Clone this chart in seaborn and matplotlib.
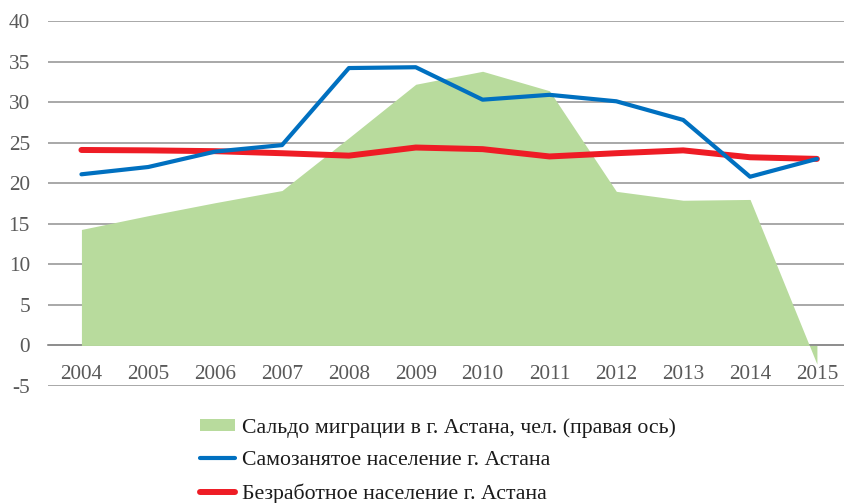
import matplotlib
matplotlib.use("Agg")
import matplotlib.pyplot as plt
import seaborn as sns
import pandas as pd

years = [2004, 2005, 2006, 2007, 2008, 2009, 2010, 2011, 2012, 2013, 2014, 2015]
migration = [14.3, 16.0, 17.6, 19.1, 25.6, 32.2, 33.8, 31.4, 19.0, 17.9, 18.0, -2.3]
self_employed = [21.1, 22.0, 23.9, 24.7, 34.2, 34.3, 30.3, 30.9, 30.1, 27.8, 20.8, 23.0]
unemployed = [24.1, 24.05, 23.95, 23.7, 23.4, 24.4, 24.2, 23.3, 23.7, 24.05, 23.2, 23.0]

lab_mig = "Сальдо миграции в г. Астана, чел. (правая ось)"
lab_self = "Самозанятое население г. Астана"
lab_unemp = "Безработное население г. Астана"

sns.set_style("white")
plt.rcParams["font.family"] = ["Liberation Serif", "DejaVu Serif"]
plt.rcParams["axes.unicode_minus"] = False

df = pd.DataFrame({"year": years, "self": self_employed, "unemp": unemployed})

fig = plt.figure(figsize=(8.45, 5.03), dpi=100)
ax = fig.add_axes([48 / 845, 1 - 386 / 503, 1 - 48 / 845, (386 - 21) / 503])

area = ax.fill_between(years, 0, migration, color="#B8DB9D", linewidth=0, label=lab_mig, zorder=2)
sns.lineplot(data=df, x="year", y="self", ax=ax, color="#0070C0", linewidth=3.0,
             label=lab_self, zorder=4)
sns.lineplot(data=df, x="year", y="unemp", ax=ax, color="#EE1C25", linewidth=4.3,
             label=lab_unemp, zorder=3, solid_capstyle="round")

ax.set_xlim(2003.5, 2015.42)
ax.set_ylim(-5, 40)
ax.set_yticks(range(-5, 41, 5))
ax.set_xticks(years)
ax.set_xticklabels([str(y) for y in years])
ax.set_xlabel("")
ax.set_ylabel("")

ax.yaxis.grid(True, color="#9A9A9A", linewidth=1.2, zorder=1)
ax.xaxis.grid(False)
ax.set_axisbelow(True)
for s in ["top", "right", "left"]:
    ax.spines[s].set_visible(False)
ax.spines["bottom"].set_position(("data", 0))
ax.spines["bottom"].set_color("#8A8A8A")
ax.spines["bottom"].set_linewidth(1.2)
ax.spines["bottom"].set_zorder(1.5)

ax.tick_params(axis="both", length=0, labelsize=15.3, labelcolor="#595959")
ax.tick_params(axis="x", pad=14)
ax.tick_params(axis="y", pad=13)

if ax.get_legend():
    ax.get_legend().remove()
handles, labels = ax.get_legend_handles_labels()
order = [labels.index(lab_mig), labels.index(lab_self), labels.index(lab_unemp)]
leg = fig.legend([handles[i] for i in order], [labels[i] for i in order],
                 loc="center left", bbox_to_anchor=(200 / 845, 1 - 461 / 503),
                 bbox_transform=fig.transFigure, frameon=False, fontsize=15.7,
                 handlelength=1.62, handleheight=0.45, handletextpad=0.32,
                 labelspacing=0.62, borderpad=0, borderaxespad=0)
for t in leg.get_texts():
    t.set_color("#1A1A1A")

fig.savefig("out.png", dpi=100)
